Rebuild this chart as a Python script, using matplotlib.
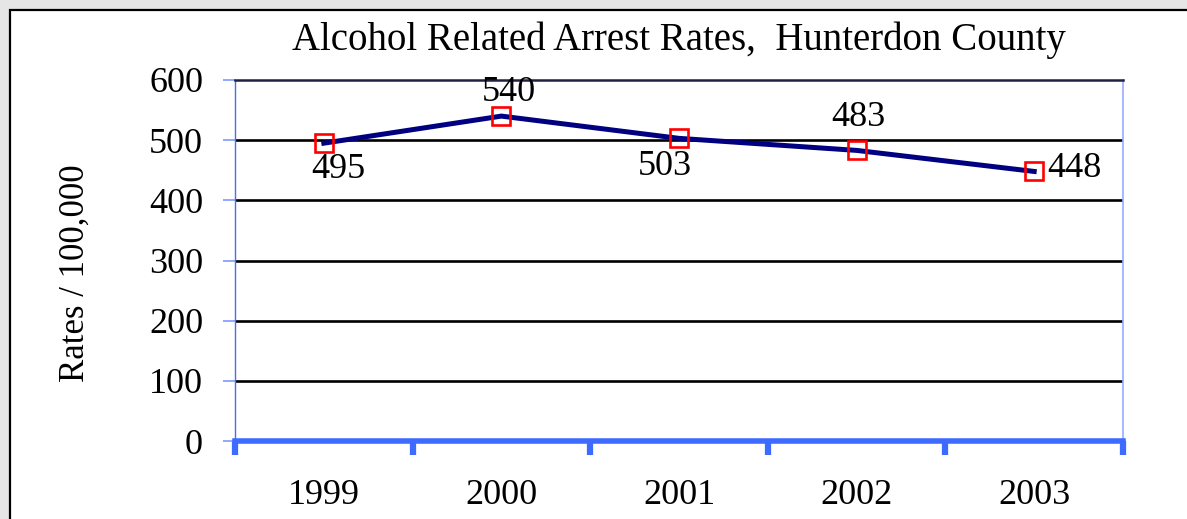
import matplotlib
matplotlib.use("Agg")
import matplotlib.pyplot as plt
from matplotlib.patches import Rectangle

years = ["1999", "2000", "2001", "2002", "2003"]
rates = [495, 540, 503, 483, 448]
# label offsets in pixels (dx, dy) and horizontal alignment
label_offsets = [(15, -26, "center"), (7, 24, "center"), (-14, -28, "center"),
                 (2, 33, "center"), (13, 3, "left")]

plt.rcParams["font.family"] = ["Liberation Serif", "DejaVu Serif"]

fig = plt.figure(figsize=(11.87, 5.19), dpi=100)
fig.patch.set_facecolor("#e6e6e6")

# white chart frame (right and bottom edges run off the canvas)
frame = Rectangle((10 / 1187, -0.1), 1.2, 1 - 10 / 519 + 0.1, transform=fig.transFigure,
                  facecolor="white", edgecolor="black", linewidth=1.6, zorder=-5)
fig.patches.append(frame)

ax = fig.add_axes([235 / 1187, 1 - 441 / 519, 888 / 1187, 361 / 519])
ax.set_zorder(2)
ax.set_facecolor("white")

x = list(range(len(years)))
ax.plot(x, rates, color="#000080", linewidth=3.6, zorder=3)
ax.plot(x, rates, linestyle="none", marker="s", markersize=12.5, markerfacecolor="none",
        markeredgecolor="#ff0000", markeredgewidth=1.9, zorder=4)

for xi, r, (dx, dy, ha) in zip(x, rates, label_offsets):
    ax.annotate(str(r), (xi, r), xytext=(dx, dy), textcoords="offset pixels",
                ha=ha, va="center", fontsize=26, color="black", zorder=5)

ax.set_xlim(-0.5, len(years) - 0.5)
ax.set_ylim(0, 600)
ax.set_yticks(range(0, 601, 100))
ax.tick_params(axis="y", labelsize=26, length=9, width=1.4, color="#8fa8ff", pad=14)

for yv in range(100, 600, 100):
    ax.axhline(yv, color="black", linewidth=1.9, zorder=1)

# category boundary ticks and centred year labels
ax.set_xticks([i - 0.5 for i in range(len(years) + 1)])
ax.set_xticklabels([])
ax.tick_params(axis="x", which="major", direction="out", length=10, width=4.5,
               color="#3d6bff")
ax.set_xticks(x, minor=True)
ax.set_xticklabels(years, minor=True)
ax.tick_params(axis="x", which="minor", length=0, labelsize=26, pad=27)

ax.spines["bottom"].set_color("#3d6bff")
ax.spines["bottom"].set_linewidth(4)
ax.spines["left"].set_color("#4a6cf0")
ax.spines["left"].set_linewidth(1.0)
ax.spines["right"].set_color("#99aaff")
ax.spines["right"].set_linewidth(1.2)
ax.spines["top"].set_color("#202040")
ax.spines["top"].set_linewidth(1.8)

ax.set_ylabel("Rates / 100,000", fontsize=25)
ax.yaxis.set_label_coords(-0.161, 0.465)

fig.text(679 / 1187, 1 - 40 / 519, "Alcohol Related Arrest Rates,  Hunterdon County",
         ha="center", va="center", fontsize=28)

fig.savefig("out.png", dpi=100, facecolor=fig.get_facecolor())
